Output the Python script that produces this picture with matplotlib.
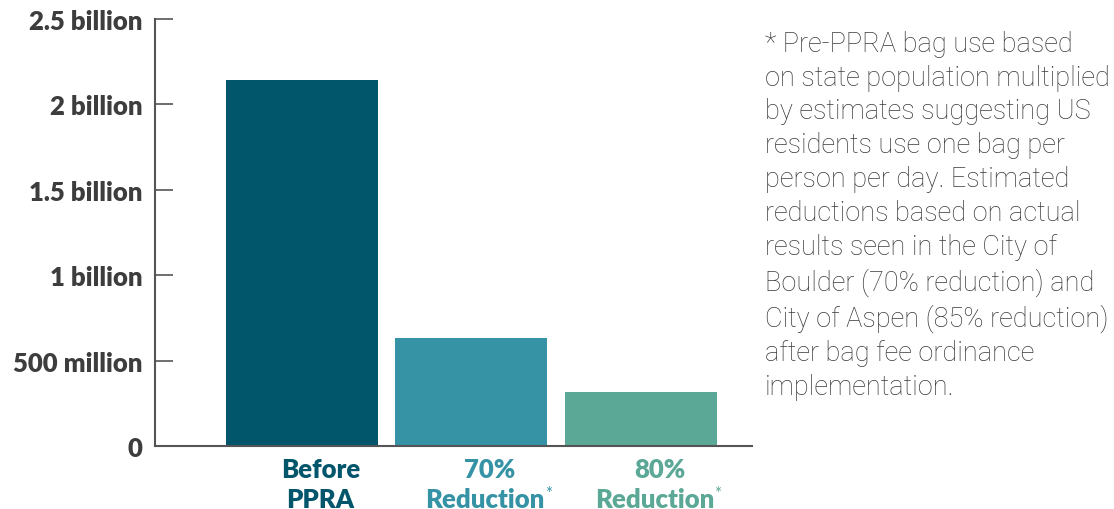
import matplotlib.pyplot as plt
import numpy as np

# bag use estimates (bags per year)
categories = ['Before\nPPRA', '70%\nReduction', '80%\nReduction']
values = [2.14e9, 0.632e9, 0.316e9]
bar_colors = ['#02566B', '#3693A6', '#5BA897']
yticks = [0, 0.5e9, 1e9, 1.5e9, 2e9, 2.5e9]
ytick_labels = ['0', '500 million', '1 billion', '1.5 billion', '2 billion', '2.5 billion']

note = ("* Pre-PPRA bag use based\n"
        "on state population multiplied\n"
        "by estimates suggesting US\n"
        "residents use one bag per\n"
        "person per day. Estimated\n"
        "reductions based on actual\n"
        "results seen in the City of\n"
        "Boulder (70% reduction) and\n"
        "City of Aspen (85% reduction)\n"
        "after bag fee ordinance\n"
        "implementation.")

fig = plt.figure(figsize=(11.14, 5.10), dpi=100)
ax = fig.add_axes([0.139, 0.1235, 0.536, 0.8375])

x = np.arange(len(values))
ax.bar(x, values, width=0.897, color=bar_colors)

ax.set_xlim(-0.867, 2.655)
ax.set_ylim(0, 2.5e9)
ax.set_yticks(yticks)
ax.set_yticklabels(ytick_labels, fontfamily='Lato', fontweight='heavy',
                   fontsize=18.5, color='#3d3d3d')
ax.tick_params(axis='y', direction='in', length=13, width=1.2, color='#555555', pad=9)
ax.set_xticks([])

for s in ['top', 'right']:
    ax.spines[s].set_visible(False)
for s in ['left', 'bottom']:
    ax.spines[s].set_color('#555555')
    ax.spines[s].set_linewidth(1.5)

# category labels under bars
trans = ax.get_xaxis_transform()
second_lines = []
for i, (lab, c) in enumerate(zip(categories, bar_colors)):
    first, second = lab.split('\n')
    ax.text(i + 0.11, -0.025, first, transform=trans,
            ha='center', va='top', fontsize=18.5, fontfamily='Lato',
            fontweight='heavy', color=c)
    t = ax.text(i + 0.11 - (0 if i == 0 else 0.03), -0.095, second, transform=trans,
                ha='center', va='top', fontsize=18.5, fontfamily='Lato',
                fontweight='heavy', color=c)
    if i > 0:
        second_lines.append((t, c))

# small asterisks after "Reduction"
fig.canvas.draw()
r = fig.canvas.get_renderer()
for t, c in second_lines:
    bb = t.get_window_extent(r)
    ax.annotate('*', xy=(bb.x1, bb.y1), xycoords='figure pixels',
                xytext=(0, 1), textcoords='offset points', ha='left', va='top',
                fontsize=12, fontfamily='Lato', color=c)

fig.text(0.687, 0.94, note, ha='left', va='top', fontsize=19.5,
         fontfamily='Roboto', fontweight='light', color='#3a3a3a',
         linespacing=1.33)

fig.savefig('out.png', dpi=100)
